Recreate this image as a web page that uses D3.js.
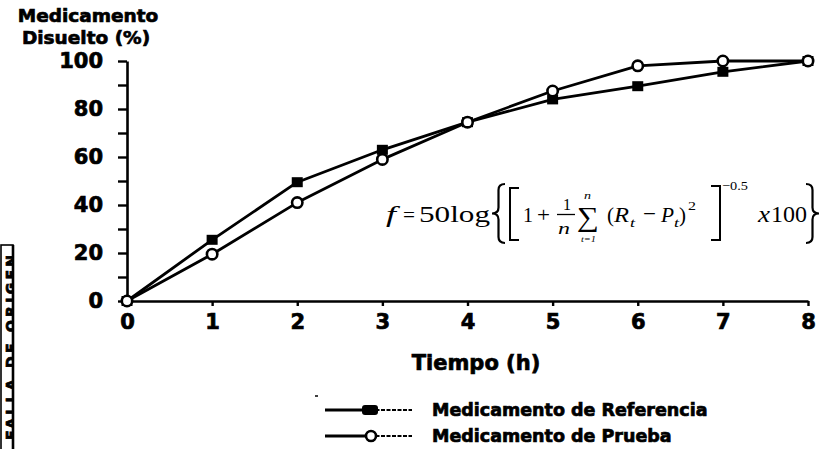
<!DOCTYPE html>
<html>
<head>
<meta charset="utf-8">
<script src="https://cdnjs.cloudflare.com/ajax/libs/d3/7.8.5/d3.min.js"></script>
<style>
  html, body { margin: 0; padding: 0; background: #fff; }
  svg { display: block; }
  .heavy { stroke: #000; stroke-width: 0.7px; }
</style>
</head>
<body>
<script>
// Dissolution profile: % drug dissolved vs time (h)
const hours = [0, 1, 2, 3, 4, 5, 6, 7, 8];
const referencia = [0, 25.5, 49.5, 63, 74.5, 84, 89.5, 95.5, 100];
const prueba = [0, 19.5, 41, 59, 74.5, 87.5, 98, 100, 100];
const yTicks = [0, 10, 20, 30, 40, 50, 60, 70, 80, 90, 100];
const yLabelTicks = [0, 20, 40, 60, 80, 100];
const seriesNames = ["Medicamento de Referencia", "Medicamento de Prueba"];

const W = 821, H = 449;
const sans = "'DejaVu Sans', 'Liberation Sans', Arial, sans-serif";
const serif = "'Liberation Serif', 'Times New Roman', serif";

const svg = d3.select("body").append("svg")
  .attr("width", W).attr("height", H)
  .attr("viewBox", `0 0 ${W} ${H}`);

const x = d3.scaleLinear().domain([0, 8]).range([127, 808]);
const y = d3.scaleLinear().domain([0, 100]).range([301, 61]);

// Y axis
const yAxis = svg.append("g")
  .attr("transform", `translate(${x(0)},0)`)
  .call(d3.axisLeft(y).tickValues(yTicks).tickSize(9).tickSizeOuter(0).tickPadding(15)
    .tickFormat(d => yLabelTicks.includes(d) ? d : ""));
yAxis.select(".domain").attr("stroke", "#000").attr("stroke-width", 2.6);
yAxis.selectAll(".tick line").attr("stroke", "#000").attr("stroke-width", 2.4);
yAxis.selectAll(".tick text").attr("class", "heavy").attr("font-family", sans)
  .attr("font-weight", "bold").attr("font-size", 21).attr("fill", "#000");

// X axis
const xAxis = svg.append("g")
  .attr("transform", `translate(0,${y(0)})`)
  .call(d3.axisBottom(x).tickValues(hours).tickSize(5).tickSizeOuter(0).tickPadding(8)
    .tickFormat(d3.format("d")));
xAxis.select(".domain").attr("stroke", "#000").attr("stroke-width", 2.6);
xAxis.selectAll(".tick line").attr("stroke", "#000").attr("stroke-width", 2.4);
xAxis.selectAll(".tick text").attr("class", "heavy").attr("font-family", sans)
  .attr("font-weight", "bold").attr("font-size", 21).attr("fill", "#000");

// Axis titles
const yTitle = svg.append("text").attr("class", "heavy")
  .attr("font-family", sans).attr("font-weight", "bold").attr("font-size", 18.5)
  .attr("text-anchor", "middle").attr("fill", "#000");
yTitle.append("tspan").attr("x", 88).attr("y", 22).text("Medicamento");
yTitle.append("tspan").attr("x", 86).attr("y", 44).text("Disuelto (%)");

svg.append("text").attr("class", "heavy")
  .attr("x", 476).attr("y", 370)
  .attr("font-family", sans).attr("font-weight", "bold").attr("font-size", 21)
  .attr("text-anchor", "middle").attr("fill", "#000")
  .text("Tiempo (h)");

// Lines
const line = d3.line().x((d, i) => x(hours[i])).y(d => y(d));
const lineG = svg.append("g");
[referencia, prueba].forEach(s => {
  lineG.append("path").datum(s).attr("d", line)
    .attr("fill", "none").attr("stroke", "#000").attr("stroke-width", 2.8)
    .attr("stroke-linejoin", "round");
});

// Markers: filled squares (reference), open circles (test)
const sq = 11;
svg.append("g").selectAll("rect").data(referencia).join("rect")
  .attr("x", (d, i) => x(hours[i]) - sq / 2)
  .attr("y", d => y(d) - sq / 2 + 0.5)
  .attr("width", sq).attr("height", sq - 1)
  .attr("fill", "#000");
svg.append("g").selectAll("circle").data(prueba).join("circle")
  .attr("cx", (d, i) => x(hours[i]))
  .attr("cy", d => y(d))
  .attr("r", 5.2)
  .attr("fill", "#fff").attr("stroke", "#000").attr("stroke-width", 2.6);

// Similarity factor equation
const eq = svg.append("g").attr("fill", "#000");
function piece(px, py, txt, size, width, italic) {
  const t = eq.append("text")
    .attr("x", px).attr("y", py)
    .attr("font-family", serif).attr("font-size", size)
    .attr("font-style", italic ? "italic" : "normal")
    .text(txt);
  if (width) t.attr("textLength", width).attr("lengthAdjust", "spacingAndGlyphs");
  return t;
}
const base = 222;
piece(386, base, "f", 23, 10, true);
piece(403, base, "=", 22, 12);
piece(419, base, "50log", 23, 71);
piece(523, base, "1", 22, 10);
piece(537, base, "+", 22, 13);
piece(563, 210, "1", 16, 8);
eq.append("line").attr("x1", 557).attr("x2", 575).attr("y1", 214.5).attr("y2", 214.5)
  .attr("stroke", "#000").attr("stroke-width", 1.3);
piece(558, 234, "n", 17, 12, true);
piece(584, 199, "n", 11, 7, true);
piece(577, 226, "\u2211", 27, 22);
piece(581, 242, "t=1", 9, 15, true);
piece(607, base, "(", 22, 7);
piece(614, base, "R", 22, 15, true);
piece(630, 227, "t", 12, 5, true);
piece(643, base - 1, "\u2212", 22, 13);
piece(661, base, "P", 22, 13, true);
piece(674, 227, "t", 12, 5, true);
piece(679, base, ")", 22, 7);
piece(688, 210, "2", 13, 8);
piece(722, 190, "\u22120.5", 13, 26);
piece(758, base, "x", 23, 12, true);
piece(771, base, "100", 23, 36);

// Brackets and braces
function bracePath(x0, top, bottom, w, left) {
  const mid = (top + bottom) / 2, h = bottom - top;
  const s = left ? 1 : -1;
  const xo = left ? x0 + w : x0;       // tips
  const xm = xo - s * w / 2;           // spine
  const xp = xo - s * w;               // centre point
  const p = d3.path();
  p.moveTo(xo, top);
  p.quadraticCurveTo(xm, top, xm, top + h * 0.1);
  p.lineTo(xm, mid - h * 0.1);
  p.quadraticCurveTo(xm, mid, xp, mid);
  p.quadraticCurveTo(xm, mid, xm, mid + h * 0.1);
  p.lineTo(xm, bottom - h * 0.1);
  p.quadraticCurveTo(xm, bottom, xo, bottom);
  return p.toString();
}
eq.append("path").attr("d", bracePath(492, 184, 243, 13, true))
  .attr("fill", "none").attr("stroke", "#000").attr("stroke-width", 2.2);
eq.append("path").attr("d", bracePath(806, 184, 243, 13, false))
  .attr("fill", "none").attr("stroke", "#000").attr("stroke-width", 2.2);
eq.append("path").attr("d", "M519,188 H510 V240 H519")
  .attr("fill", "none").attr("stroke", "#000").attr("stroke-width", 2);
eq.append("path").attr("d", "M711,186 H720 V240 H711")
  .attr("fill", "none").attr("stroke", "#000").attr("stroke-width", 2);

// Legend
const legend = svg.append("g");
const legY = [410, 436];
legend.append("line").attr("x1", 315).attr("x2", 318).attr("y1", 396).attr("y2", 396)
  .attr("stroke", "#000").attr("stroke-width", 1.5);
seriesNames.forEach((name, i) => {
  const ly = legY[i];
  legend.append("line").attr("x1", 325).attr("x2", 370).attr("y1", ly).attr("y2", ly)
    .attr("stroke", "#000").attr("stroke-width", 3);
  legend.append("line").attr("x1", 370).attr("x2", 412).attr("y1", ly).attr("y2", ly)
    .attr("stroke", "#000").attr("stroke-width", 1.8).attr("stroke-dasharray", "4,1.5");
  if (i === 0) {
    legend.append("rect").attr("x", 362).attr("y", ly - 5).attr("width", 16).attr("height", 10)
      .attr("rx", 3).attr("fill", "#000");
  } else {
    legend.append("circle").attr("cx", 371).attr("cy", ly).attr("r", 5)
      .attr("fill", "#fff").attr("stroke", "#000").attr("stroke-width", 2.6);
  }
  legend.append("text").attr("class", "heavy").attr("x", 432).attr("y", ly + 6)
    .attr("font-family", sans).attr("font-weight", "bold").attr("font-size", 17.5)
    .attr("fill", "#000").text(name);
});

// Stamp strip on the left margin
const stamp = svg.append("g");
stamp.append("clipPath").attr("id", "stampClip")
  .append("rect").attr("x", 1).attr("y", 245).attr("width", 12).attr("height", 210);
stamp.append("rect").attr("x", 1).attr("y", 245).attr("width", 12).attr("height", 210)
  .attr("fill", "#fff").attr("stroke", "#000").attr("stroke-width", 1.6);
stamp.append("line").attr("x1", 13).attr("x2", 13).attr("y1", 245).attr("y2", 449)
  .attr("stroke", "#000").attr("stroke-width", 2.6);
stamp.append("g").attr("clip-path", "url(#stampClip)")
  .append("text")
  .attr("transform", "translate(16,440) rotate(-90)")
  .attr("font-family", sans).attr("font-weight", "bold").attr("font-size", 14)
  .attr("textLength", 185).attr("lengthAdjust", "spacing")
  .attr("stroke", "#000").attr("stroke-width", 0.8)
  .attr("fill", "#000")
  .text("FALLA DE ORIGEN");
</script>
</body>
</html>
